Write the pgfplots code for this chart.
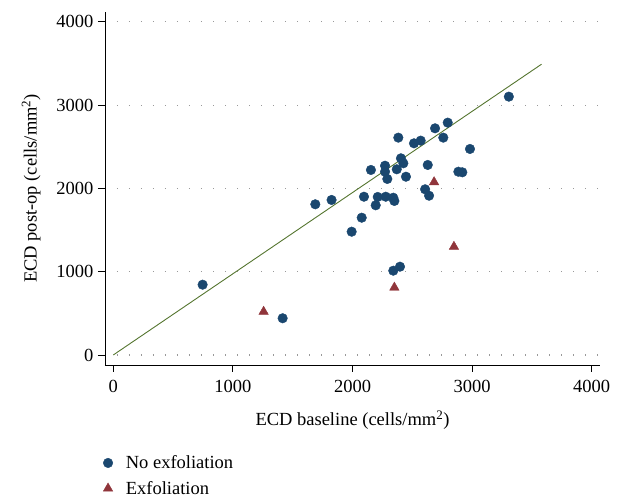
\documentclass[border=0pt]{standalone}
\usepackage{fontspec}
\setmainfont{Liberation Serif}
\usepackage{pgfplots}
\pgfplotsset{compat=1.18}
\definecolor{navy}{RGB}{26,71,111}
\definecolor{maroon}{RGB}{144,53,59}
\definecolor{forest}{RGB}{85,117,47}

\begin{document}
\begin{tikzpicture}
\begin{axis}[
    scale only axis,
    width=495pt, height=353pt,
    xmin=-69, xmax=4069,
    ymin=-120, ymax=4117,
    axis x line*=bottom, axis y line*=left,
    axis line style={black, line width=0.8pt},
    xtick={0,1000,2000,3000,4000},
    ytick={0,1000,2000,3000,4000},
    tick align=outside,
    major tick length=7pt,
    tick style={black, line width=0.8pt},
    /pgf/number format/assume math mode=true,
    /pgf/number format/1000 sep={},
    tick label style={font=\fontsize{18.5}{22}\selectfont},
    xticklabel style={yshift=-5pt},
    yticklabel style={xshift=-1pt},
    ymajorgrids,
    grid style={gray!80, line width=1.1pt, dash pattern=on 1.1pt off 10.9pt},
    xlabel={ECD baseline (cells/mm\textsuperscript{2})},
    ylabel={ECD post-op (cells/mm\textsuperscript{2})},
    label style={font=\fontsize{18.5}{22}\selectfont},
    xlabel style={yshift=-11pt},
    ylabel style={yshift=9pt},
    legend cell align=left,
    legend style={draw=none, fill=none, at={(-0.01,-0.245)}, anchor=north west,
        font=\fontsize{18.5}{22}\selectfont, row sep=7pt},
]
\addplot[only marks, mark=*, mark size=4.8pt, navy, mark options={fill=navy, draw=navy}]
coordinates {
(747,844) (1416,441) (2341,1012) (2397,1060) (1825,1861) (1689,1809)
(2096,1900) (2154,2221) (2077,1648) (1993,1480) (2194,1797) (2211,1897)
(2278,1900) (2341,1888) (2350,1849) (2272,2272) (2272,2200) (2291,2113)
(2383,2609) (2405,2361) (2425,2301) (2370,2229) (2447,2140) (2514,2541)
(2570,2573) (2629,2281) (2607,1989) (2640,1912) (2690,2721) (2759,2609)
(2796,2789) (2982,2473) (2885,2200) (2918,2193) (3307,3101)
};
\addlegendentry{\hspace{11pt}No exfoliation}
\addplot[only marks, mark=triangle*, mark size=5.5pt, maroon, mark options={fill=maroon, draw=maroon}]
coordinates {
(1257,520) (2350,810) (2682,2075) (2848,1300)
};
\addlegendentry{\hspace{11pt}Exfoliation}
\addplot[forest, line width=0.9pt, forget plot] coordinates {(0,0) (3580,3490)};
\end{axis}
\pgfresetboundingbox
\useasboundingbox (-105pt,-135pt) rectangle (519pt,365pt);
\end{tikzpicture}
\end{document}
